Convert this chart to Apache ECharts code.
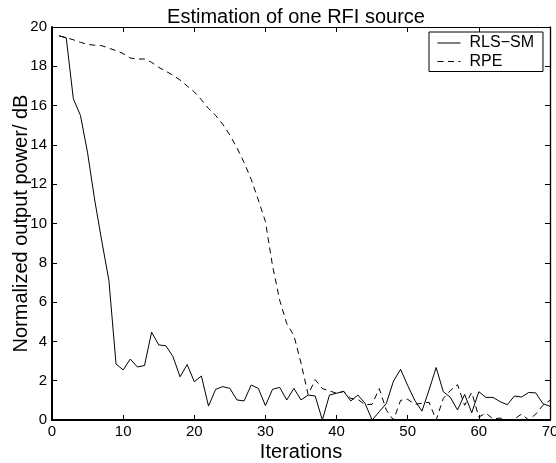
<!DOCTYPE html>
<html>
<head>
<meta charset="utf-8">
<script src="https://cdn.jsdelivr.net/npm/echarts@6/dist/echarts.min.js"></script>
<style>
html,body{margin:0;padding:0;background:#fff;}
#chart{width:556px;height:463px;}
</style>
</head>
<body>
<div id="chart"></div>
<script>
const iterations = [1,2,3,4,5,6,7,8,9,10,11,12,13,14,15,16,17,18,19,20,21,22,23,24,25,26,27,28,29,30,31,32,33,34,35,36,37,38,39,40,41,42,43,44,45,46,47,48,49,50,51,52,53,54,55,56,57,58,59,60,61,62,63,64,65,66,67,68,69,70];
const rlsSm = [19.55,19.45,16.35,15.5,13.6,11.2,9.1,7.1,2.85,2.55,
  3.1,2.7,2.77,4.47,3.82,3.78,3.23,2.2,2.82,1.95,
  2.24,0.71,1.56,1.7,1.61,1.02,0.97,1.78,1.61,0.73,
  1.56,1.66,1.02,1.61,1.02,1.27,1.22,0,1.27,1.36,
  1.46,0.97,1.27,0.85,0,0.42,0.85,1.98,2.58,1.75,
  1.0,0.45,1.53,2.67,1.44,1.15,0.51,1.3,0.37,1.44,
  1.15,1.15,0.93,0.78,1.22,1.17,1.4,1.38,0.83,0.7];
const rpe = [19.55,19.45,19.35,19.22,19.12,19.07,19.05,18.92,18.8,18.65,
  18.42,18.37,18.37,18.2,17.95,17.75,17.55,17.3,17.0,16.7,
  16.3,15.85,15.5,15.05,14.5,13.85,13.1,12.25,11.2,10.1,
  7.85,6.1,4.9,4.3,2.9,1.3,2.05,1.6,1.48,1.36,
  1.45,1.1,1.05,0.78,0.8,1.6,0.5,0,1.0,1.05,
  0.8,0.85,0.9,0,1.1,1.5,1.8,0.75,1.4,0.15,
  0.35,0.05,0.1,0,0.05,0.3,0,0.3,0.75,1.0];
const seriesNames = ['RLS\u2212SM', 'RPE'];
const xTicks = {min: 0, max: 70, interval: 10};
const yTicks = {min: 0, max: 20, interval: 2};

const font = 'Liberation Sans, Arial, Helvetica, sans-serif';
const chart = echarts.init(document.getElementById('chart'), null, {renderer: 'canvas'});
const pairs = (ys) => iterations.map((x, i) => [x, ys[i]]);

chart.setOption({
  animation: false,
  backgroundColor: '#fff',
  title: {
    text: 'Estimation of one RFI source',
    left: 296, top: 7.5, textAlign: 'center', padding: 0,
    textStyle: {fontFamily: font, fontSize: 20, fontWeight: 'normal', color: '#000', lineHeight: 20}
  },
  legend: {
    left: 429, top: 32, orient: 'vertical',
    backgroundColor: '#fff', borderColor: '#000', borderWidth: 1, borderRadius: 0,
    padding: [3, 9, 2, 8], itemGap: 2.5, itemWidth: 23, itemHeight: 14,
    itemStyle: {opacity: 0},
    lineStyle: {width: 1},
    textStyle: {fontFamily: font, fontSize: 16, color: '#000', lineHeight: 16, padding: [0, 0, 0, 4]},
    data: seriesNames
  },
  grid: {left: 52, right: 6, top: 27, bottom: 43, containLabel: false, outerBoundsMode: 'none'},
  xAxis: [{
    type: 'value', position: 'bottom', min: xTicks.min, max: xTicks.max, interval: xTicks.interval,
    name: 'Iterations', nameLocation: 'middle', nameGap: 22, nameMoveOverlap: false,
    nameTextStyle: {fontFamily: font, fontSize: 20, color: '#000', lineHeight: 20},
    axisLine: {show: true, onZero: false, lineStyle: {color: '#000', width: 2}},
    axisTick: {show: true, inside: true, length: 5, lineStyle: {color: '#000', width: 1}},
    axisLabel: {fontFamily: font, fontSize: 15, color: '#000', margin: 4},
    splitLine: {show: false}
  }, {
    type: 'value', position: 'top', min: xTicks.min, max: xTicks.max, interval: xTicks.interval,
    axisLine: {show: true, onZero: false, lineStyle: {color: '#000', width: 1}},
    axisTick: {show: true, inside: true, length: 5, lineStyle: {color: '#000', width: 1}},
    axisLabel: {show: false}, splitLine: {show: false}
  }],
  yAxis: [{
    type: 'value', position: 'left', min: yTicks.min, max: yTicks.max, interval: yTicks.interval,
    name: 'Normalized output power/ dB', nameLocation: 'middle', nameGap: 21, nameRotate: 90,
    nameMoveOverlap: false,
    nameTextStyle: {fontFamily: font, fontSize: 20, color: '#000', lineHeight: 20},
    axisLine: {show: true, onZero: false, lineStyle: {color: '#000', width: 2}},
    axisTick: {show: true, inside: true, length: 5, lineStyle: {color: '#000', width: 1}},
    axisLabel: {fontFamily: font, fontSize: 15, color: '#000', margin: 5},
    splitLine: {show: false}
  }, {
    type: 'value', position: 'right', min: yTicks.min, max: yTicks.max, interval: yTicks.interval,
    axisLine: {show: true, onZero: false, lineStyle: {color: '#000', width: 1.3}},
    axisTick: {show: true, inside: true, length: 5, lineStyle: {color: '#000', width: 1}},
    axisLabel: {show: false}, splitLine: {show: false}
  }],
  series: [{
    name: seriesNames[0], type: 'line', xAxisIndex: 0, yAxisIndex: 0,
    data: pairs(rlsSm), symbol: 'none', showSymbol: false,
    lineStyle: {color: '#000', width: 1, type: 'solid'}, itemStyle: {color: '#000'}
  }, {
    name: seriesNames[1], type: 'line', xAxisIndex: 0, yAxisIndex: 0,
    data: pairs(rpe), symbol: 'none', showSymbol: false,
    lineStyle: {color: '#000', width: 1, type: [6, 4.5]}, itemStyle: {color: '#000'}
  }]
});
</script>
</body>
</html>
